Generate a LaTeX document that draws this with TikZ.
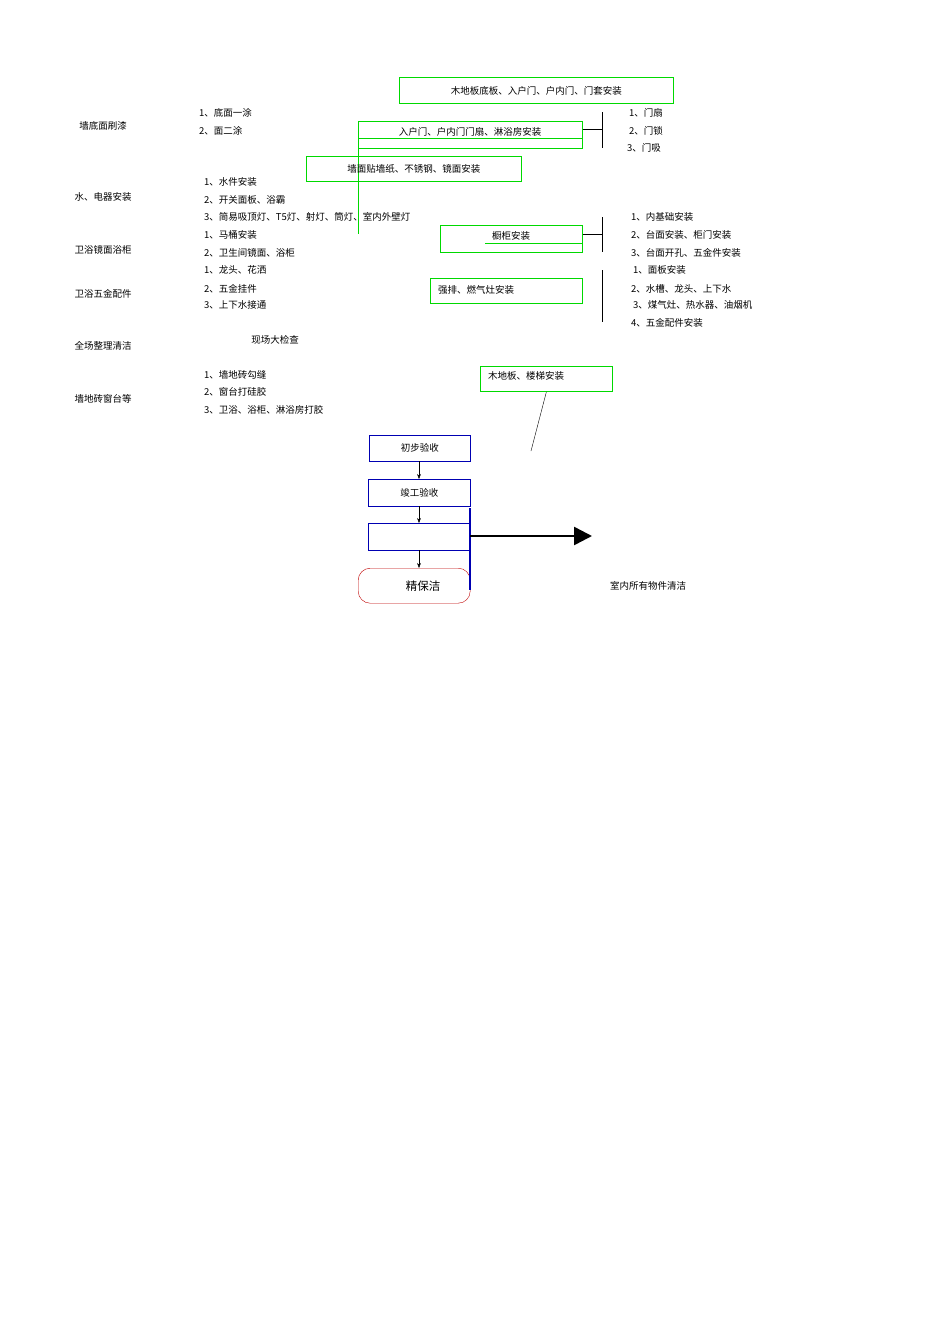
\documentclass[tikz,border=0pt]{standalone}
\usepackage{fontspec}
\setmainfont{Noto Sans CJK SC}
\usetikzlibrary{arrows.meta}
\tikzset{
    gbox/.style={draw=green!85!black, line width=0.8pt, anchor=north west, inner sep=0pt},
    bbox/.style={draw=blue!70!black, line width=0.6pt, anchor=north west, inner sep=0pt},
    item/.style={anchor=west, inner sep=0pt, font=\fontsize{9.5}{11}\selectfont},
    lab/.style={inner sep=0pt, font=\fontsize{9.5}{11}\selectfont},
}
\begin{document}
\begin{tikzpicture}[x=1pt, y=-1pt]
    \useasboundingbox (0,0) rectangle (950,1344);
    % green stages
    \node (floor) [gbox, minimum width=274pt, minimum height=26pt] at (399,77) {};
    \node [lab] at (floor.center) {木地板底板、入户门、户内门、门套安装};
    \node (door) [gbox, minimum width=224pt, minimum height=27pt] at (358,121) {};
    \node [lab] at (470,132) {入户门、户内门门扇、淋浴房安装};
    \draw [green!85!black, line width=0.8pt] (358,138) -- (582,138);
    \draw [green!85!black, line width=0.8pt] (358,121) -- (358,234);
    \node (wall) [gbox, minimum width=215pt, minimum height=25pt] at (306,156) {};
    \node [lab] at (wall.center) {墙面贴墙纸、不锈钢、镜面安装};
    \node (cab) [gbox, minimum width=142pt, minimum height=27pt] at (440,225) {};
    \node [lab] at (511,236) {橱柜安装};
    \draw [green!85!black, line width=0.8pt] (485,243) -- (582,243);
    \node (gas) [gbox, minimum width=152pt, minimum height=25pt] at (430,278) {};
    \node [item] at (438,290) {强排、燃气灶安装};
    \node (wood) [gbox, minimum width=132pt, minimum height=25pt] at (480,366) {};
    \node [item] at (488,376) {木地板、楼梯安装};
    \coordinate (woodend) at (531,451);
    \draw (wood.south) -- (woodend);
    % brackets
    \coordinate (br1) at (602,129);
    \draw (door.east |- br1) -- (br1);
    \draw (602,112) -- (602,148);
    \coordinate (br2) at (602,234);
    \draw (cab.east |- br2) -- (br2);
    \draw (602,217) -- (602,252);
    \draw (602,270) -- (602,322);
    % left column
    \foreach \t/\y in {墙底面刷漆/126, 水、电器安装/197, 卫浴镜面浴柜/250, 卫浴五金配件/294, 全场整理清洁/346, 墙地砖窗台等/399}
        \node [lab] at (103,\y) {\t};
    \foreach \t/\x/\y in {1、底面一涂/199/113, 2、面二涂/199/131,
        1、水件安装/204/182, 2、开关面板、浴霸/204/200, 3、简易吸顶灯、T5灯、射灯、筒灯、室内外壁灯/204/217,
        1、马桶安装/204/235, 2、卫生间镜面、浴柜/204/253, 1、龙头、花洒/204/270,
        2、五金挂件/204/289, 3、上下水接通/204/305,
        1、墙地砖勾缝/204/375, 2、窗台打硅胶/204/392, 3、卫浴、浴柜、淋浴房打胶/204/410,
        1、门扇/629/113, 2、门锁/629/131, 3、门吸/627/148,
        1、内基础安装/631/217, 2、台面安装、柜门安装/631/235, 3、台面开孔、五金件安装/631/253,
        1、面板安装/633/270, 2、水槽、龙头、上下水/631/289, 3、煤气灶、热水器、油烟机/633/305, 4、五金配件安装/631/323}
        \node [item] at (\x,\y) {\t};
    \node [lab] at (275,340) {现场大检查};
    % acceptance flow
    \node (first) [bbox, minimum width=101pt, minimum height=26pt] at (369,435) {};
    \node [lab] at (first.center) {初步验收};
    \node (done) [bbox, minimum width=102pt, minimum height=27pt] at (368,479) {};
    \node [lab] at (done.center) {竣工验收};
    \node (blank) [bbox, minimum width=102pt, minimum height=27pt] at (368,523) {};
    \node (clean) [draw=red!75!black, rounded corners=12pt, minimum width=112pt, minimum height=35pt, anchor=north west, inner sep=0pt] at (358,568) {};
    \node [lab, font=\fontsize{11.5}{13}\selectfont] at (423,586) {精保洁};
    \draw [-{Stealth[length=5pt]}] (419,461) -- (419,479);
    \draw [-{Stealth[length=5pt]}] (419,506) -- (419,523);
    \draw [-{Stealth[length=5pt]}] (419,550) -- (419,568);
    \draw [blue!70!black, line width=2pt] (470,508) -- (470,590);
    \coordinate (out) at (592,536);
    \draw [line width=2.5pt, -{Triangle[length=18pt, width=18pt]}] (470,536) -- (out);
    \node (note) [lab] at (648,586) {室内所有物件清洁};
\end{tikzpicture}
\end{document}
